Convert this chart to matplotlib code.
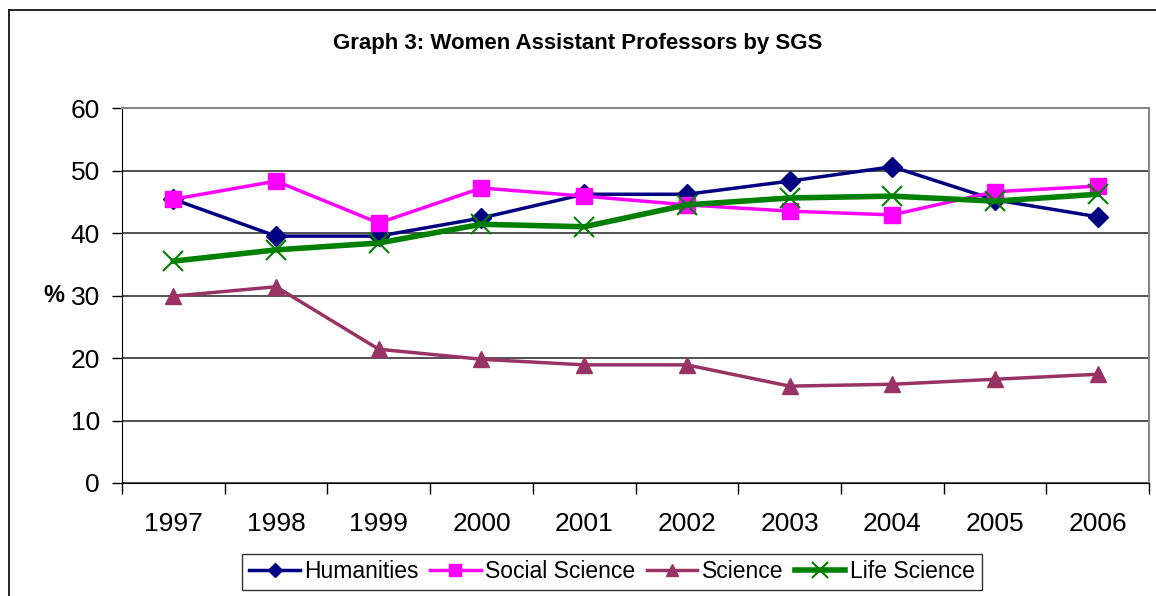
"""Recreate Graph 3: Women Assistant Professors by SGS."""

import matplotlib
matplotlib.use("Agg")
import matplotlib.pyplot as plt
from matplotlib.lines import Line2D
import numpy as np

years = ["1997", "1998", "1999", "2000", "2001", "2002", "2003", "2004", "2005", "2006"]
humanities = [45.4, 39.5, 39.5, 42.4, 46.2, 46.2, 48.3, 50.6, 45.3, 42.6]
social_science = [45.4, 48.3, 41.6, 47.2, 45.9, 44.5, 43.5, 42.9, 46.6, 47.5]
science = [29.9, 31.4, 21.4, 19.8, 18.9, 18.9, 15.5, 15.8, 16.6, 17.4]
life_science = [35.5, 37.3, 38.4, 41.4, 41.0, 44.5, 45.6, 45.9, 45.1, 46.2]

plt.rcParams["font.family"] = ["Liberation Sans", "DejaVu Sans"]

fig = plt.figure(figsize=(11.56, 5.96), dpi=100)
ax = fig.add_axes([122 / 1156, 1 - 483 / 596, (1149 - 122) / 1156, (483 - 108) / 596])

# outer chart-area border (bottom and right fall off the canvas)
fig.add_artist(Line2D([9 / 1156, 9 / 1156], [0, 1 - 10 / 596], transform=fig.transFigure,
                      color="black", lw=1.2))
fig.add_artist(Line2D([9 / 1156, 1], [1 - 10 / 596, 1 - 10 / 596], transform=fig.transFigure,
                      color="black", lw=1.2))

x = np.arange(len(years))

ax.plot(x, humanities, color="#000080", lw=2.5, marker="D", ms=10, label="Humanities", zorder=3)
ax.plot(x, social_science, color="#FF00FF", lw=2.5, marker="s", ms=11, label="Social Science", zorder=3)
ax.plot(x, science, color="#993366", lw=2.5, marker="^", ms=11, label="Science", zorder=3)
ax.plot(x, life_science, color="#008000", lw=4, marker="x", ms=15, mew=1.5,
        label="Life Science", zorder=4)

ax.set_xlim(-0.5, len(years) - 0.5)
ax.set_ylim(0, 60)
ax.set_yticks(range(0, 61, 10))
ax.yaxis.grid(True, color="#333333", lw=1.2)
ax.set_axisbelow(True)

ax.set_xticks(x)
ax.set_xticklabels(years)
ax.set_xticks(np.arange(-0.5, len(years)), minor=True)
ax.tick_params(axis="x", which="major", length=0, pad=21, labelsize=19)
ax.tick_params(axis="x", which="minor", length=8, width=1, direction="out", color="black")
ax.tick_params(axis="y", length=7, width=1, direction="out", labelsize=19, pad=9)

for side in ("top", "right"):
    ax.spines[side].set_color("#888888")
    ax.spines[side].set_linewidth(1.5)
ax.spines["left"].set_color("black")
ax.spines["bottom"].set_color("black")

ax.set_ylabel("%", rotation=0, fontsize=17, fontweight="bold", labelpad=12, va="center")

fig.text(0.5, 1 - 44 / 596, "Graph 3: Women Assistant Professors by SGS",
         ha="center", va="center", fontsize=16, fontweight="bold")

leg = fig.legend(loc="center", bbox_to_anchor=(612 / 1156, 1 - 572 / 596), ncol=4,
                 fontsize=16.5, frameon=True, fancybox=False, edgecolor="black",
                 handlelength=2.2, handletextpad=0.2, columnspacing=0.5,
                 borderpad=0.3, borderaxespad=0, markerscale=0.75)
leg.get_frame().set_linewidth(1.0)

fig.savefig("out.png", dpi=100)
